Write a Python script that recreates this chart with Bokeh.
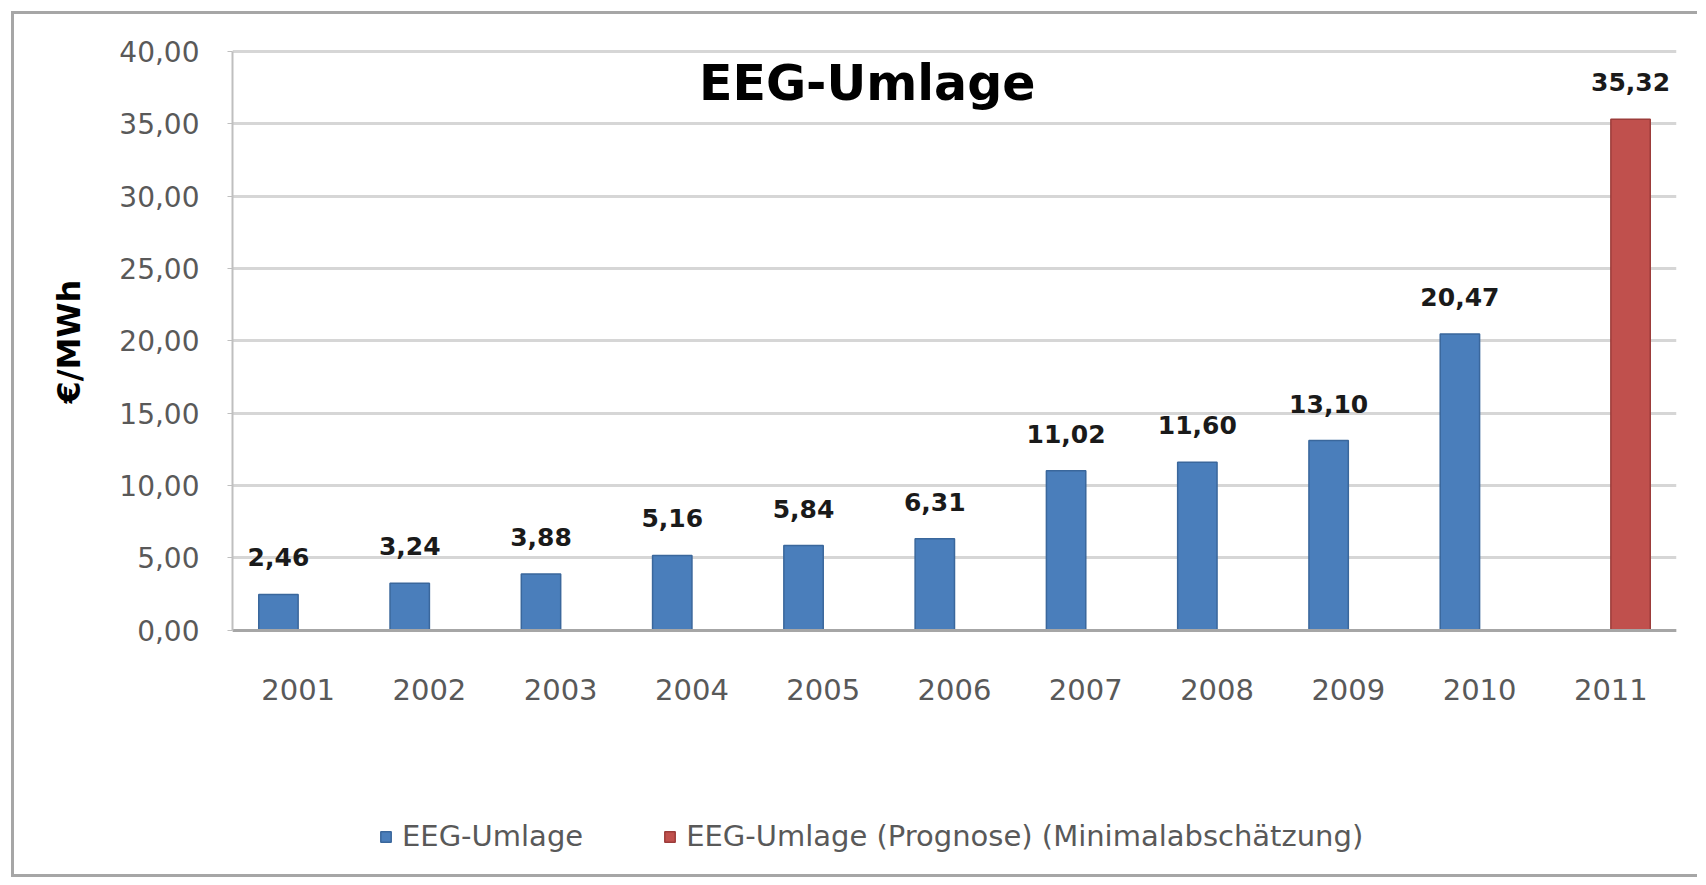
from bokeh.plotting import figure
from bokeh.models import (FactorRange, Range1d, FixedTicker, CustomJSTickFormatter,
                          ColumnDataSource, Label, Legend, LegendItem, Title)
from bokeh.core.properties import value
from bokeh.transform import dodge
from bokeh.embed import file_html
from bokeh.resources import INLINE

# ---- data ----
years = ["2001", "2002", "2003", "2004", "2005", "2006", "2007", "2008", "2009", "2010", "2011"]
actual_years = ["2001", "2002", "2003", "2004", "2005", "2006", "2007", "2008", "2009", "2010"]
actual_values = [2.46, 3.24, 3.88, 5.16, 5.84, 6.31, 11.02, 11.60, 13.10, 20.47]
forecast_years = ["2011"]
forecast_values = [35.32]
y_ticks = [0, 5, 10, 15, 20, 25, 30, 35, 40]

series_names = ["EEG-Umlage", "EEG-Umlage (Prognose) (Minimalabschätzung)"]
chart_title = "EEG-Umlage"
y_label = "€/MWh"

FONT = "DejaVu Sans"
BLUE = "#4A7EBB"
BLUE_EDGE = "#3A679C"
RED = "#C0504D"
RED_EDGE = "#9C3C3A"


def fmt(v):
    return f"{v:.2f}".replace(".", ",")


src_a = ColumnDataSource(dict(x=actual_years, top=actual_values,
                              lbl=[fmt(v) for v in actual_values]))
src_f = ColumnDataSource(dict(x=forecast_years, top=forecast_values,
                              lbl=[fmt(v) for v in forecast_values]))

# frame reaches down to the legend; the value axis itself only spans 0..40
p = figure(width=1686, height=866, x_range=FactorRange(*years, range_padding=0),
           y_range=Range1d(-16.35, 40.21), output_backend="svg", toolbar_location=None,
           min_border_left=218, min_border_right=24, min_border_top=34, min_border_bottom=14)
p.margin = (11, 0, 0, 11)
p.styles = {"border-left": "3px solid #A6A6A6", "border-top": "3px solid #A6A6A6",
            "border-bottom": "3px solid #A6A6A6"}
p.outline_line_color = None
p.background_fill_color = "white"
p.border_fill_color = "white"

# grid
p.xgrid.visible = False
p.ygrid.ticker = FixedTicker(ticks=y_ticks)
p.ygrid.grid_line_color = "#D6D6D6"
p.ygrid.grid_line_width = 3

# y axis
p.yaxis.ticker = FixedTicker(ticks=y_ticks)
p.yaxis.bounds = (0, 40)
p.yaxis.formatter = CustomJSTickFormatter(code="return tick.toFixed(2).replace('.', ',');")
p.yaxis.major_label_text_font = FONT
p.yaxis.major_label_text_font_size = "28px"
p.yaxis.major_label_text_color = "#595959"
p.yaxis.axis_line_color = "#BFBFBF"
p.yaxis.axis_line_width = 2
p.yaxis.major_tick_out = 5
p.yaxis.major_tick_in = 0
p.yaxis.major_tick_line_color = "#BFBFBF"
p.yaxis.minor_tick_line_color = None
p.yaxis.major_label_standoff = 28

# y axis title, placed along the 0..40 span
p.add_layout(Title(text=y_label, align="left", offset=463, standoff=58,
                   text_font=FONT, text_font_size="32px", text_font_style="bold",
                   text_color="#000000"), "left")

# x axis, drawn at value 0
p.xaxis.fixed_location = 0
p.xaxis.major_label_text_font = FONT
p.xaxis.major_label_text_font_size = "29px"
p.xaxis.major_label_text_color = "#595959"
p.xaxis.axis_line_color = "#A6A6A6"
p.xaxis.axis_line_width = 3
p.xaxis.major_tick_line_color = None
p.xaxis.major_tick_out = 0
p.xaxis.major_tick_in = 0
p.xaxis.major_label_standoff = 49

# bars
r_a = p.vbar(x=dodge("x", -0.15, range=p.x_range), top="top", width=0.3, bottom=0, source=src_a,
             fill_color=BLUE, line_color=BLUE_EDGE, line_width=1.5)
r_f = p.vbar(x=dodge("x", 0.15, range=p.x_range), top="top", width=0.3, bottom=0, source=src_f,
             fill_color=RED, line_color=RED_EDGE, line_width=1.5)

# data labels
for src, off in ((src_a, -0.15), (src_f, 0.15)):
    p.text(x=dodge("x", off, range=p.x_range), y="top", text="lbl", source=src,
           text_font=value(FONT), text_font_size="25px", text_font_style="bold",
           text_color="#1A1A1A", text_align="center", text_baseline="alphabetic",
           y_offset=-37)

# title inside the plot
p.add_layout(Label(x=4.835, y=37.8, text=chart_title, text_font=FONT, text_font_size="49px",
                   text_font_style="bold", text_color="#000000", text_align="center",
                   text_baseline="middle"))

# legend at the bottom (inside the frame area)
legend = Legend(items=[LegendItem(label=series_names[0], renderers=[r_a]),
                       LegendItem(label=series_names[1], renderers=[r_f])],
                orientation="horizontal", location=(147, 13),
                label_text_font=FONT, label_text_font_size="29px", label_text_color="#595959",
                glyph_width=13, glyph_height=13, label_standoff=10, spacing=80,
                padding=0, margin=0, border_line_color=None, background_fill_alpha=0)
p.add_layout(legend, "center")

open("out.html", "w").write(file_html(p, INLINE))
